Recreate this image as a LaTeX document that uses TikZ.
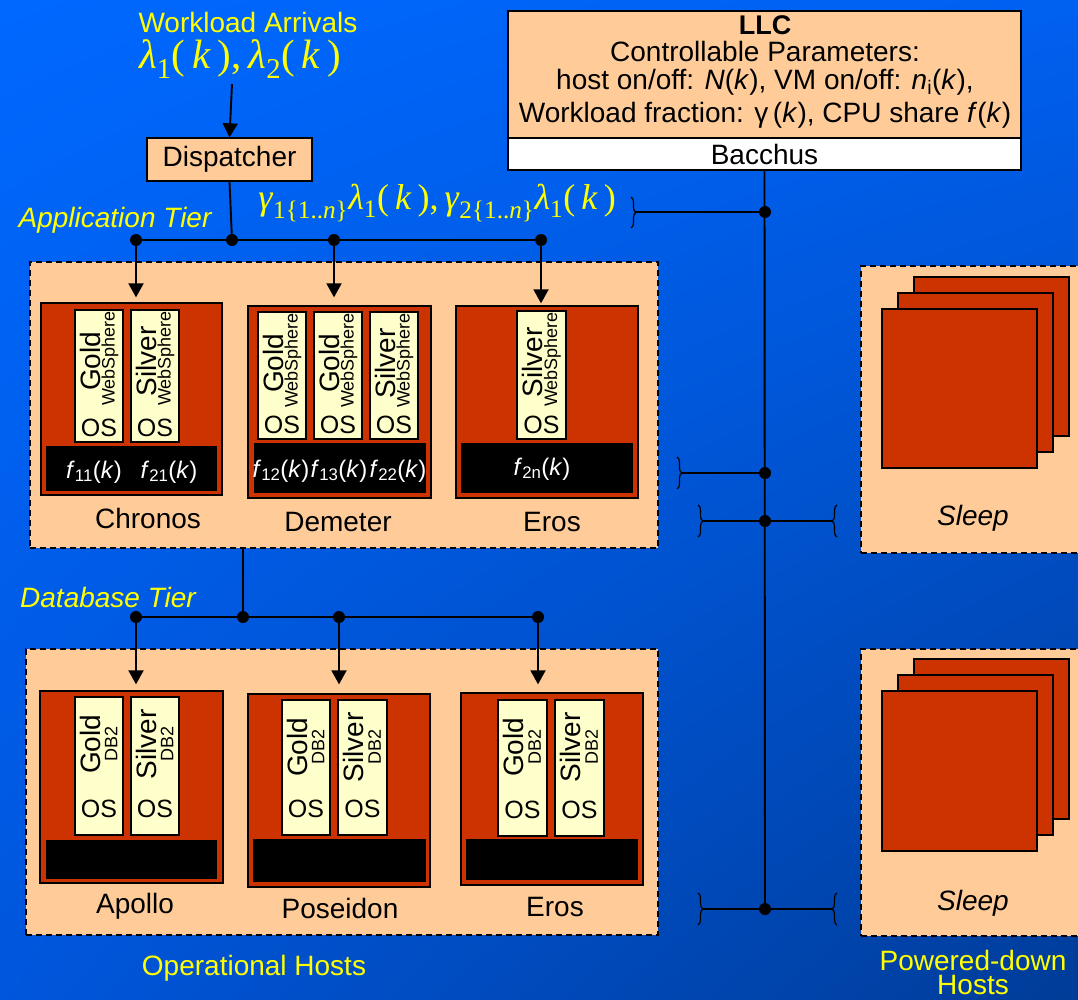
\documentclass[tikz,border=0pt]{standalone}
\usepackage{fontspec}
\setmainfont{Liberation Sans}
\newfontfamily\tms{Liberation Serif}
\usetikzlibrary{arrows.meta,decorations.pathreplacing,fit,shadings}
\definecolor{peach}{HTML}{FFCC99}
\definecolor{hostred}{HTML}{CC3300}
\definecolor{vmyel}{HTML}{FFFFCC}
\definecolor{ytxt}{HTML}{FFFF00}
\definecolor{bgA}{HTML}{0068FF}
\definecolor{bgB}{HTML}{0060F0}
\definecolor{bgC}{HTML}{0056DC}
\definecolor{bgD}{HTML}{003C98}
\newcommand\myfs[1]{\fontsize{#1}{#1}\selectfont}
\newcommand\appvm[6]{%
  \node[vmbox, fit={(#2,#3) (#4,#5)}] (#1) {};
  \node[vmlab] at ([xshift=-9pt,yshift=-52pt]#1.north) {#6};
  \node[vmsub] at ([xshift=11pt,yshift=-49pt]#1.north) {WebSphere};
  \node[oslab] at ([yshift=15pt]#1.south) {OS};}
\newcommand\dbvm[6]{%
  \node[vmbox, fit={(#2,#3) (#4,#5)}] (#1) {};
  \node[vmlab] at ([xshift=-9pt,yshift=-48pt]#1.north) {#6};
  \node[vmsub] at ([xshift=12pt,yshift=-48pt]#1.north) {DB2};
  \node[oslab] at ([yshift=27pt]#1.south) {OS};}
\newcommand\fk[1]{\textit{f}\textsubscript{#1}(\textit{k})}
\begin{document}
\begin{tikzpicture}[x=1pt,y=-1pt,
  lbl/.style={font=\myfs{28}, inner sep=0pt},
  ylbl/.style={lbl, text=ytxt},
  tierbox/.style={draw=black, fill=peach, line width=1.5pt, dash pattern=on 6pt off 4pt, inner sep=0pt},
  hostbox/.style={draw=black, fill=hostred, line width=1.3pt, inner sep=0pt},
  vmbox/.style={draw=black, fill=vmyel, line width=1.2pt, inner sep=0pt},
  hypbar/.style={fill=black, inner sep=0pt},
  plainbox/.style={draw=black, line width=1.3pt, inner sep=0pt},
  conn/.style={line width=1.9pt},
  arr/.style={conn, -{Triangle[width=15pt,length=14pt]}},
  jdot/.style={circle, fill=black, inner sep=0pt, minimum size=12pt},
  brc/.style={line width=1.2pt, decorate, decoration={brace, amplitude=5pt}},
  vmlab/.style={rotate=90, inner sep=0pt, font=\myfs{28}},
  vmsub/.style={rotate=90, inner sep=0pt, font=\myfs{18}},
  oslab/.style={font=\myfs{25}, inner sep=0pt},
  flab/.style={font=\myfs{24}, text=white, inner sep=0pt},
]
\clip (0,0) rectangle (1078,1000);
\shade[upper left=bgA, upper right=bgB, lower left=bgC, lower right=bgD] (0,0) rectangle (1078,1000);

% top: arrivals and dispatcher
\node[ylbl] (wa) at (248,22) {Workload Arrivals};
\node[ylbl, font=\tms\myfs{41}] (lam) at (240,59) {\textit{λ}\textsubscript{1}(\,\textit{k}\,),\,\textit{λ}\textsubscript{2}(\,\textit{k}\,)};
\node[plainbox, fill=peach, fit={(147,138) (312,181)}] (disp) {};
\node[lbl] at (disp.center) {Dispatcher};
\draw[arr] (232,84) -- (disp.north);

% LLC
\node[plainbox, fill=peach, fit={(508,11) (1021,138)}] (llc) {};
\node[plainbox, fill=white, fit={(508,138) (1021,170)}] (bacchus) {};
\node[lbl, font=\bfseries\myfs{27}] at (765,25) {LLC};
\node[lbl] at (765,51) {Controllable Parameters:};
\node[lbl] at (765,82) {host on/off: \textit{N}(\textit{k}), VM on/off: \textit{n}\textsubscript{i}(\textit{k}),};
\node[lbl] at (765,115) {Workload fraction: γ\,(\textit{k}), CPU share \textit{f}(\textit{k})};
\node[lbl] at (bacchus.center) {Bacchus};

% gamma label
\node[ylbl, font=\tms\myfs{36}] (gam) at (437,203) {\textit{γ}\textsubscript{1\{1..\textit{n}\}}\textit{λ}\textsubscript{1}(\,\textit{k}\,),\,\textit{γ}\textsubscript{2\{1..\textit{n}\}}\textit{λ}\textsubscript{1}(\,\textit{k}\,)};

% application tier
\node[ylbl, font=\itshape\myfs{28}] at (115,220) {Application Tier};
\node[tierbox, fit={(30,262) (658,548)}] (apptier) {};

\node[hostbox, fit={(41,303) (222,495)}] (chronos) {};
\appvm{c1}{75}{310}{123}{442}{Gold}
\appvm{c2}{131}{310}{179}{442}{Silver}
\node[hypbar, fit={(46,446) (217,491)}] (cbar) {};
\node[flab] at (94,472) {\fk{11}};
\node[flab] at (169,472) {\fk{21}};
\node[lbl] at (148,518) {Chronos};

\node[hostbox, fit={(248,306) (431,498)}] (demeter) {};
\appvm{d1}{258}{312}{306}{439}{Gold}
\appvm{d2}{314}{312}{362}{439}{Gold}
\appvm{d3}{370}{312}{418}{439}{Silver}
\node[hypbar, fit={(254,443) (426,493)}] (dbar) {};
\node[flab] at (281,471) {\fk{12}};
\node[flab] at (339,471) {\fk{13}};
\node[flab] at (398,471) {\fk{22}};
\node[lbl] at (338,522) {Demeter};

\node[hostbox, fit={(456,306) (638,498)}] (eros) {};
\appvm{e1}{517}{311}{566}{439}{Silver}
\node[hypbar, fit={(461,443) (633,493)}] (ebar) {};
\node[flab] at (542,469) {\fk{2n}};
\node[lbl] at (552,522) {Eros};

% app tier distribution
\node[jdot] (a1) at (136,240) {};
\node[jdot] (a2) at (232,240) {};
\node[jdot] (a3) at (334,240) {};
\node[jdot] (a4) at (541,240) {};
\draw[conn] (disp.south) -- (a2);
\draw[conn] (a1) -- (a4);
\draw[arr, shorten >=5pt] (a1) -- (a1 |- chronos.north);
\draw[arr, shorten >=8pt] (a3) -- (a3 |- demeter.north);
\draw[arr, shorten >=2pt] (a4) -- (a4 |- eros.north);

% database tier
\node[ylbl, font=\itshape\myfs{28}] at (108,597) {Database Tier};
\node[tierbox, fit={(26,649) (658,935)}] (dbtier) {};
\node[jdot] (b1) at (136,617) {};
\node[jdot] (b2) at (243,617) {};
\node[jdot] (b3) at (339,617) {};
\node[jdot] (b4) at (538,617) {};
\draw[conn] (apptier.south -| b2) -- (b2);
\draw[conn] (b1) -- (b4);

\node[hostbox, fit={(40,691) (223,883)}] (apollo) {};
\dbvm{p1}{75}{697}{123}{835}{Gold}
\dbvm{p2}{131}{697}{179}{835}{Silver}
\node[hypbar, fit={(46,840) (217,879)}] (pbar) {};
\node[lbl] at (135,906) {Apollo};

\node[hostbox, fit={(248,694) (430,887)}] (poseidon) {};
\dbvm{q1}{282}{700}{330}{835}{Gold}
\dbvm{q2}{338}{700}{387}{835}{Silver}
\node[hypbar, fit={(253,839) (426,882)}] (qbar) {};
\node[lbl] at (340,908) {Poseidon};

\node[hostbox, fit={(461,693) (643,885)}] (erosdb) {};
\dbvm{r1}{498}{700}{547}{836}{Gold}
\dbvm{r2}{555}{700}{604}{836}{Silver}
\node[hypbar, fit={(466,839) (638,880)}] (rbar) {};
\node[lbl] at (555,907) {Eros};

\draw[arr, shorten >=6pt] (b1) -- (b1 |- apollo.north);
\draw[arr, shorten >=9pt] (b3) -- (b3 |- poseidon.north);
\draw[arr, shorten >=8pt] (b4) -- (b4 |- erosdb.north);

\node[ylbl] at (254,968) {Operational Hosts};

% powered-down hosts
\node[tierbox, fit={(861,266) (1095,553)}] (sleepA) {};
\node[hostbox, fit={(914,277) (1069,436)}] (sa3) {};
\node[hostbox, fit={(898,293) (1053,452)}] (sa2) {};
\node[hostbox, fit={(882,309) (1037,468)}] (sa1) {};
\node[lbl, font=\itshape\myfs{28}] at (973,518) {Sleep};

\node[tierbox, fit={(861,649) (1095,936)}] (sleepB) {};
\node[hostbox, fit={(914,659) (1069,819)}] (sb3) {};
\node[hostbox, fit={(898,675) (1053,835)}] (sb2) {};
\node[hostbox, fit={(882,691) (1037,851)}] (sb1) {};
\node[lbl, font=\itshape\myfs{28}] at (973,903) {Sleep};

\node[ylbl] at (973,960) {Powered-down};
\node[ylbl] at (973,985) {Hosts};

% control bus
\node[jdot] (k1) at (765,212) {};
\node[jdot] (k2) at (765,473) {};
\node[jdot] (k3) at (765,521) {};
\node[jdot] (k4) at (765,909) {};
\draw[conn] (bacchus.south) -- (k4);
\draw[brc] (631,197) -- (631,228);
\coordinate (t1) at (636,212);
\draw[conn] (t1) -- (k1);
\draw[brc] (677,457) -- (677,489);
\coordinate (t2) at (682,473);
\draw[conn] (t2) -- (k2);
\draw[brc] (698,505) -- (698,537);
\draw[brc] (837,537) -- (837,505);
\coordinate (t3l) at (703,521);
\coordinate (t3r) at (832,521);
\draw[conn] (t3l) -- (t3r);
\draw[brc] (698,893) -- (698,925);
\draw[brc] (837,925) -- (837,893);
\coordinate (t4l) at (703,909);
\coordinate (t4r) at (832,909);
\draw[conn] (t4l) -- (t4r);
\end{tikzpicture}
\end{document}
